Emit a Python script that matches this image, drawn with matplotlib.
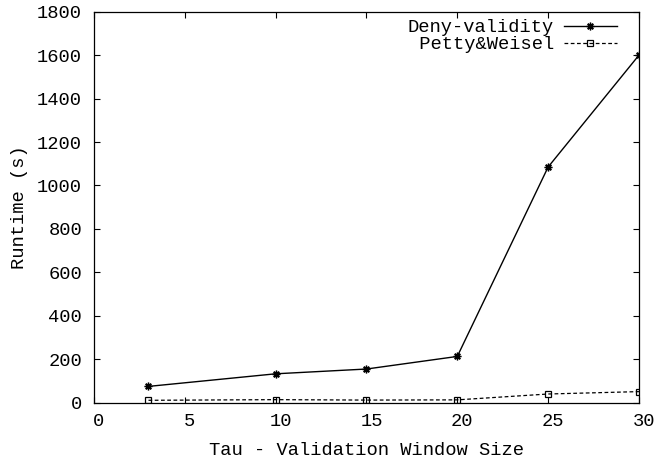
import numpy as np
import matplotlib
matplotlib.use("Agg")
import matplotlib.pyplot as plt
from matplotlib.transforms import ScaledTranslation

plt.rcParams['font.family'] = ['Liberation Mono', 'DejaVu Sans Mono']
plt.rcParams['font.size'] = 13.5

# Data
tau = [3, 10, 15, 20, 25, 30]
deny_validity = [75, 133, 155, 213, 1085, 1600]
petty_weisel = [11, 14, 12, 13, 40, 51]

fig = plt.figure(figsize=(6.55, 4.65), dpi=100)
ax = fig.add_axes([0.1435, 0.134, 0.832, 0.8408])

ax.plot(tau, deny_validity, color='black', lw=1.0, marker=(8, 2, 0),
        ms=5.5, mew=1.0, label='Deny-validity')
ax.plot(tau, petty_weisel, color='black', lw=0.9, ls=(0, (3, 2)),
        marker='s', ms=4.5, mfc='none', mew=0.9, label=' Petty&Weisel')

ax.set_xlim(0, 30)
ax.set_ylim(0, 1800)
ax.set_xticks(np.arange(0, 31, 5))
ax.set_yticks(np.arange(0, 1801, 200))
ax.tick_params(direction='in', top=True, right=True, length=4.3, width=0.8)
ax.tick_params(axis='x', pad=7.2)
ax.tick_params(axis='y', pad=8.6)
for s in ax.spines.values():
    s.set_linewidth(0.9)

# gnuplot puts the x tick labels a little right of the ticks
shift = ScaledTranslation(0.05, 0, fig.dpi_scale_trans)
for lbl in ax.get_xticklabels():
    lbl.set_transform(lbl.get_transform() + shift)

ax.set_xlabel('Tau - Validation Window Size', labelpad=9)
ax.set_ylabel('Runtime (s)', labelpad=6.5)

ax.legend(loc='upper right', bbox_to_anchor=(0.9596, 0.981), frameon=False,
          markerfirst=False, handlelength=2.83, handletextpad=0.53,
          labelspacing=0.0, borderpad=0, borderaxespad=0)

fig.savefig('out.png', dpi=100)
